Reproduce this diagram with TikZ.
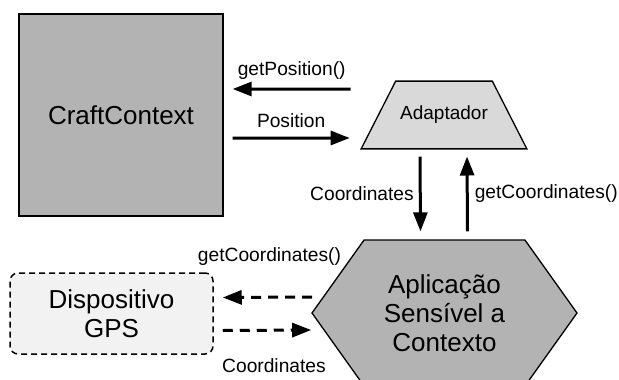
\documentclass[tikz,border=0pt]{standalone}
\usepackage{fontspec}
\setmainfont{Liberation Sans}
\usetikzlibrary{arrows.meta,shapes.geometric,shapes.symbols}
\definecolor{darkbox}{HTML}{B3B3B3}
\definecolor{lightbox}{HTML}{D9D9D9}
\definecolor{gpsbox}{HTML}{F2F2F2}
\begin{document}
\begin{tikzpicture}[x=1pt,y=-1pt,
        big/.style={font=\fontsize{26}{29}\selectfont,align=center},
        lbl/.style={font=\fontsize{19.2}{22}\selectfont,inner sep=0pt},
        arr/.style={line width=3pt,-{Triangle[length=19pt,width=14pt]}},
        darr/.style={arr,dash pattern=on 10pt off 7pt}]
        \useasboundingbox (0,0) rectangle (619,380);
        \clip (0,0) rectangle (619,380);

        \node[draw,line width=1.3pt,fill=darkbox,minimum width=204pt,minimum height=202pt,big] (craft) at (121,115) {CraftContext};
        \node[draw,line width=1.3pt,fill=lightbox,trapezium,trapezium left angle=63,trapezium right angle=63,inner xsep=4.5pt,inner ysep=25pt,font=\fontsize{19}{22}\selectfont] (adapt) at (444,115) {Adaptador};
        \node[draw,line width=1.3pt,fill=darkbox,signal,signal to=east and west,signal pointer angle=109,minimum width=265pt,minimum height=146pt,big] (app) at (444.5,313) {Aplicação\\Sensível a\\Contexto};
        \node[draw,line width=1.5pt,dash pattern=on 6pt off 4pt,rounded corners=8pt,fill=gpsbox,minimum width=203pt,minimum height=81pt,big] (gps) at (111.5,313.5) {Dispositivo\\GPS};

        \path[draw,arr] ([xshift=-27pt,yshift=26pt]adapt.west) -- ([xshift=9pt,yshift=26pt]craft.east) node[midway,above=8pt,lbl] {getPosition()};
        \path[draw,arr] ([xshift=9pt,yshift=-23pt]craft.east) -- ([xshift=-28pt,yshift=-23pt]adapt.west) node[midway,above=9pt,lbl] {Position};
        \path[draw,arr] ([xshift=-24pt,yshift=-7pt]adapt.south) -- ([xshift=-24pt,yshift=8pt]app.north) node[midway,left=5pt,lbl] {Coordinates};
        \path[draw,arr] ([xshift=23pt,yshift=8pt]app.north) -- ([xshift=23pt,yshift=-7pt]adapt.south) node[midway,right=6pt,lbl] {getCoordinates()};

        \path[draw,darr] ([xshift=1pt,yshift=16pt]app.west) -- ([xshift=9pt,yshift=16pt]gps.east) node[midway,above=30pt,xshift=2pt,lbl] {getCoordinates()};
        \path[draw,darr] ([xshift=9pt,yshift=-17pt]gps.east) -- ([yshift=-17pt]app.west) node[midway,below=27pt,xshift=7pt,lbl] {Coordinates};
    \end{tikzpicture}
\end{document}
